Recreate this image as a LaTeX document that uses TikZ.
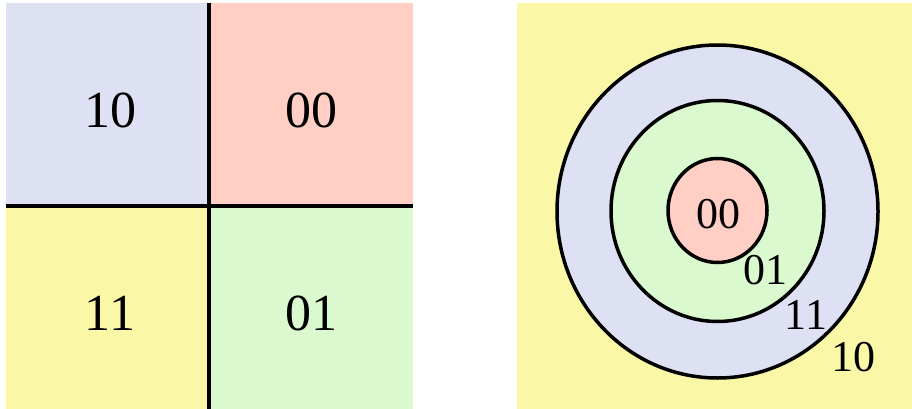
\documentclass[tikz,border=0pt]{standalone}
\usepackage{tikz}
\usepackage{xcolor}
\usepackage{fontspec}
\setmainfont{Liberation Serif}
\usetikzlibrary{positioning}

\definecolor{cellblue}{HTML}{DEE1F3}
\definecolor{cellred}{HTML}{FFCEC4}
\definecolor{cellyellow}{HTML}{FAF8A6}
\definecolor{cellgreen}{HTML}{DAF9CE}

\tikzset{
  bigcode/.style={inner sep=0pt,font=\fontsize{52}{58}\selectfont},
  ringcode/.style={inner sep=0pt,font=\fontsize{44}{50}\selectfont},
  ring/.style={draw=black,line width=3.5pt}
}

\begin{document}
\begin{tikzpicture}[x=1pt,y=-1pt]
    \useasboundingbox (0,0) rectangle (912,409);

    % left: four quadrants
    \fill[cellblue] (6,3) rectangle (209,206);
    \fill[cellred] (209,3) rectangle (413,206);
    \fill[cellyellow] (6,206) rectangle (209,409);
    \fill[cellgreen] (209,206) rectangle (413,409);
    \draw[line width=3.5pt] (209,3) -- (209,409);
    \draw[line width=3.5pt] (6,206) -- (413,206);

    \node[bigcode] (q10) at (110,110) {10};
    \node[bigcode] (q00) at (311,110) {00};
    \node[bigcode] (q11) at (110,313) {11};
    \node[bigcode] (q01) at (311,313) {01};

    % right: nested rings
    \fill[cellyellow] (517,3) rectangle (912,409);
    \draw[ring,fill=cellblue] (717.5,211.5) ellipse [x radius=160.5,y radius=166.5];
    \draw[ring,fill=cellgreen] (717.5,211) ellipse [x radius=106.5,y radius=110.5];
    \draw[ring,fill=cellred] (717.5,210.5) ellipse [x radius=49.5,y radius=52];

    \node[ringcode] (r00) at (718,214) {00};
    \node[ringcode] (r01) at (765,270) {01};
    \node[ringcode] (r11) at (806,315) {11};
    \node[ringcode] (r10) at (853,357) {10};
\end{tikzpicture}
\end{document}
